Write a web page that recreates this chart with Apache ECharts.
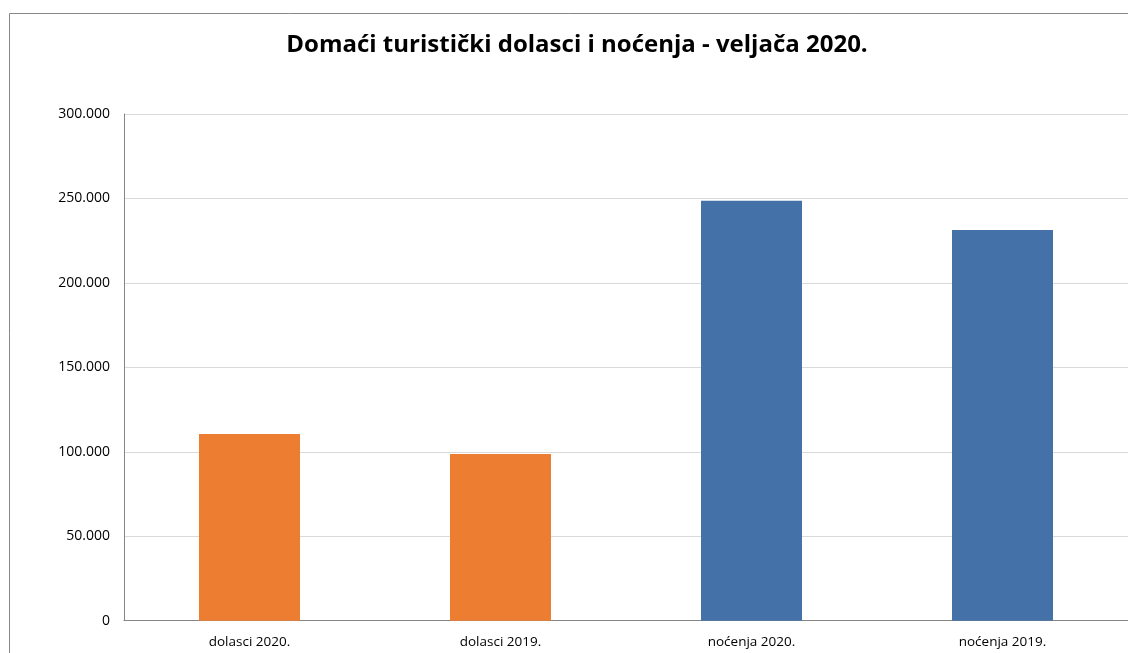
<!DOCTYPE html>
<html>
<head>
<meta charset="utf-8">
<script src="https://cdn.jsdelivr.net/npm/echarts@6/dist/echarts.min.js"></script>
<style>
html,body{margin:0;padding:0;background:#fff;}
#chart{width:1128px;height:653px;}
</style>
</head>
<body>
<div id="chart"></div>
<script>
const categories = ['dolasci 2020.', 'dolasci 2019.', 'noćenja 2020.', 'noćenja 2019.'];
const values = [110500, 98700, 248600, 231300];
const barColors = ['#ED7D31', '#ED7D31', '#4472A8', '#4472A8'];
const titleText = 'Domaći turistički dolasci i noćenja - veljača 2020.';

const chart = echarts.init(document.getElementById('chart'), null, {renderer: 'canvas'});
const fontFamily = '"Open Sans", "Liberation Sans", sans-serif';
chart.setOption({
  animation: false,
  backgroundColor: '#ffffff',
  graphic: [{
    type: 'rect',
    shape: {x: 9.5, y: 13.5, width: 1200, height: 700},
    style: {fill: 'none', stroke: '#878787', lineWidth: 1},
    silent: true,
    z: -1
  }],
  title: {
    text: titleText,
    left: 572,
    textAlign: 'center',
    top: 28,
    textStyle: {fontFamily: fontFamily, fontWeight: 'bold', fontSize: 24, color: '#000'}
  },
  grid: {left: 124, width: 1008, top: 114, bottom: 32.3, containLabel: false},
  xAxis: {
    type: 'category',
    data: categories,
    axisLine: {lineStyle: {color: '#868686', width: 1}},
    axisTick: {show: false},
    axisLabel: {fontFamily: fontFamily, fontSize: 13.5, color: '#000', margin: 14}
  },
  yAxis: {
    type: 'value',
    min: 0,
    max: 300000,
    interval: 50000,
    axisLine: {show: true, lineStyle: {color: '#868686', width: 1}},
    axisTick: {show: false},
    splitLine: {lineStyle: {color: '#d9d9d9', width: 1}},
    axisLabel: {
      fontFamily: fontFamily, fontSize: 14, color: '#000', margin: 14,
      formatter: function (v) {
        return v.toString().replace(/\B(?=(\d{3})+(?!\d))/g, '.');
      }
    }
  },
  series: [{
    type: 'bar',
    data: values.map((v, i) => ({value: v, itemStyle: {color: barColors[i]}})),
    barWidth: 101
  }]
});
</script>
</body>
</html>
